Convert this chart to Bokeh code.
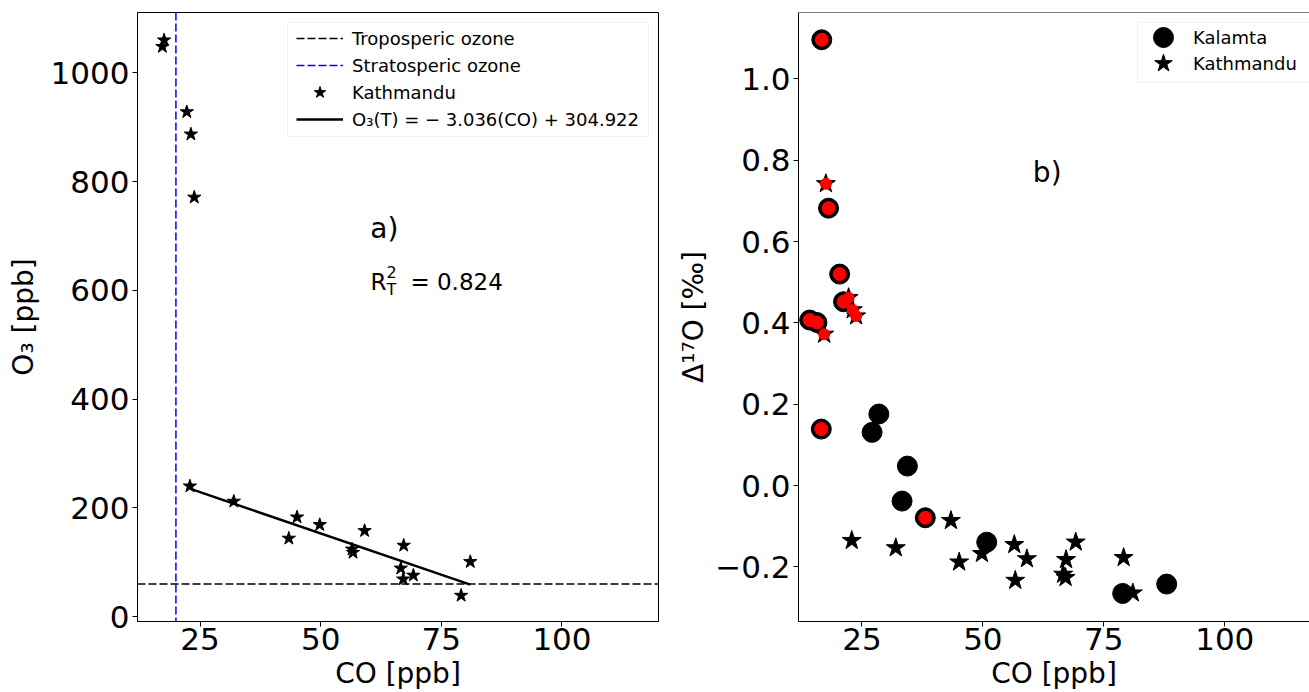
from bokeh.plotting import figure
from bokeh.models import (Range1d, FixedTicker, CustomJSTickFormatter, Span, Legend,
                          LegendItem, BoxAnnotation)
from bokeh.layouts import row
from bokeh.embed import file_html
from bokeh.resources import INLINE
from bokeh.core.properties import value

FONT = "DejaVu Sans"
NAN = float("nan")

# ---------------- data ----------------
# Kathmandu samples: CO [ppb], O3 [ppb], Delta17O [permil]
kat_co = [17.55, 17.2, 22.25, 23.1, 23.8,
          22.9, 32.0, 45.1, 43.4, 49.8, 59.1, 56.5, 56.7, 67.2, 66.6, 67.1, 69.2, 81.0, 79.1]
kat_o3 = [1060, 1048, 928, 887, 771,
          240, 212, 183, 144, 169, 158, 124, 118, 131, 89, 69, 76, 101, 39]
kat_d17o = [0.742, 0.372, 0.462, 0.432, 0.417,
            -0.135, -0.153, -0.188, -0.086, -0.167, -0.180, -0.145, -0.233, -0.182,
            -0.218, -0.226, -0.139, -0.264, -0.177]
kat_strat = [True, True, True, True, True,
             False, False, False, False, False, False, False, False, False,
             False, False, False, False, False]

# Kalamta samples: CO [ppb], Delta17O [permil]
kal_co = [16.7, 18.1, 20.4, 21.2, 14.2, 15.7, 16.6, 28.5, 27.1, 34.4, 33.3, 38.1, 50.8, 78.9, 88.0]
kal_d17o = [1.096, 0.682, 0.520, 0.452, 0.407, 0.401, 0.139, 0.176, 0.131, 0.048,
            -0.038, -0.079, -0.139, -0.265, -0.242]
kal_strat = [True, True, True, True, True, True, True, False, False, False,
             False, True, False, False, False]

trop_ozone = 60      # ppb, horizontal reference
strat_co = 20        # ppb, vertical reference
fit_slope = -3.036
fit_intercept = 304.922
r2_text = "= 0.824"

x_ticks = [25, 50, 75, 100]
o3_ticks = [0, 200, 400, 600, 800, 1000]
d17_ticks = [-0.2, 0.0, 0.2, 0.4, 0.6, 0.8, 1.0]

# ---------------- geometry ----------------
H = 692
TOP, BOTTOM = 12, 71
W1, L1, R1 = 670, 137, 12
W2, L2 = 639, 128
X1 = (12.04, 120.0)
Y1 = (-8.8, 1110.8)
X2 = (11.89, 117.52)
Y2 = (-0.334, 1.163)
DASH = "8 3"


def px2data(px, py, xr, yr, fl, fw):
    """page pixel -> data coordinates for a frame starting at page x fl with width fw"""
    fh = H - TOP - BOTTOM
    x = xr[0] + (px - fl) * (xr[1] - xr[0]) / fw
    y = yr[1] - (py - TOP) * (yr[1] - yr[0]) / fh
    return x, y


def style(p):
    p.grid.visible = False
    p.background_fill_color = "white"
    p.border_fill_color = "white"
    for ax in p.axis:
        ax.axis_line_color = "black"
        ax.axis_line_width = 1
        ax.major_tick_line_color = "black"
        ax.major_tick_out = 5
        ax.major_tick_in = 0
        ax.minor_tick_line_color = None
        ax.major_label_text_font = FONT
        ax.major_label_text_font_size = "31px"
        ax.major_label_text_color = "black"
        ax.axis_label_text_font = FONT
        ax.axis_label_text_font_size = "28px"
        ax.axis_label_text_font_style = "normal"
        ax.axis_label_text_color = "black"
    p.xaxis.major_label_standoff = 1
    p.xaxis.axis_label_standoff = 4


def item_legend(label, renderer, x, y, gw, gh, standoff):
    return Legend(items=[LegendItem(label=label, renderers=[renderer])],
                  location=(x, y), padding=0, margin=0, spacing=0,
                  glyph_width=gw, glyph_height=gh, label_height=gh, label_standoff=standoff,
                  label_text_font=FONT, label_text_font_size="18px", label_text_color="black",
                  border_line_color=None, background_fill_alpha=0)


# ---------------- panel a ----------------
p1 = figure(width=W1, height=H, x_range=Range1d(*X1), y_range=Range1d(*Y1),
            output_backend="svg", toolbar_location=None,
            min_border_left=L1, min_border_right=R1, min_border_top=TOP, min_border_bottom=BOTTOM)
style(p1)
p1.outline_line_color = "black"
p1.outline_line_width = 1
p1.xaxis.ticker = FixedTicker(ticks=x_ticks)
p1.yaxis.ticker = FixedTicker(ticks=o3_ticks)
p1.xaxis.axis_label = "CO [ppb]"
p1.yaxis.axis_label = "O₃ [ppb]"
p1.yaxis.major_label_standoff = 3
p1.yaxis.axis_label_standoff = 8

p1.add_layout(Span(location=trop_ozone, dimension="width", line_color="black",
                   line_dash=DASH, line_width=1.5))
p1.add_layout(Span(location=strat_co, dimension="height", line_color="blue",
                   line_dash=DASH, line_width=1.5))
r_trop = p1.line(x=[NAN, NAN], y=[NAN, NAN], line_color="black", line_dash=DASH, line_width=1.5)
r_strat = p1.line(x=[NAN, NAN], y=[NAN, NAN], line_color="blue", line_dash=DASH, line_width=1.5)

r_kat = p1.scatter(kat_co, kat_o3, marker="star", size=14, color="black")

trop_co = [c for c, s in zip(kat_co, kat_strat) if not s]
fx = [min(trop_co), max(trop_co)]
fy = [fit_slope * v + fit_intercept for v in fx]
r_fit = p1.line(fx, fy, line_color="black", line_width=2.5)

fw1 = W1 - L1 - R1
bx0, by0 = px2data(287, 22, X1, Y1, L1, fw1)
bx1, by1 = px2data(648, 136, X1, Y1, L1, fw1)
p1.add_layout(BoxAnnotation(left=bx0, right=bx1, top=by0, bottom=by1,
                            fill_color="white", fill_alpha=0.8,
                            line_color="#cccccc", line_width=1))
p1.add_layout(item_legend("Troposperic ozone", r_trop, 159, 570, 47, 26, 9))
p1.add_layout(item_legend("Stratosperic ozone", r_strat, 159, 543, 47, 26, 9))
p1.add_layout(item_legend("Kathmandu", r_kat, 159, 514, 47, 30, 9))
p1.add_layout(item_legend("O₃(T) = − 3.036(CO) + 304.922", r_fit, 159, 489, 47, 26, 9))

p1.text(x=[63.2], y=[714], text=["a)"], text_font=value(FONT), text_font_size="28px",
        text_align="center", text_baseline="middle", text_color="black")
p1.text(x=[60.3], y=[615], text=["R"], text_font=value(FONT), text_font_size="23px",
        text_align="left", text_baseline="middle", text_color="black")
p1.text(x=[60.3], y=[615], text=["T"], x_offset=16, y_offset=7, text_font=value(FONT),
        text_font_size="16px", text_align="left", text_baseline="middle", text_color="black")
p1.text(x=[60.3], y=[615], text=["2"], x_offset=16, y_offset=-10, text_font=value(FONT),
        text_font_size="16px", text_align="left", text_baseline="middle", text_color="black")
p1.text(x=[60.3], y=[615], text=[r2_text], x_offset=40, text_font=value(FONT),
        text_font_size="23px", text_align="left", text_baseline="middle", text_color="black")

# ---------------- panel b ----------------
p2 = figure(width=W2, height=H, x_range=Range1d(*X2), y_range=Range1d(*Y2),
            output_backend="svg", toolbar_location=None,
            min_border_left=L2, min_border_right=0, min_border_top=TOP, min_border_bottom=BOTTOM)
style(p2)
p2.outline_line_color = None
p2.add_layout(Span(location=Y2[1], dimension="width", line_color="black", line_width=1))
p2.xaxis.ticker = FixedTicker(ticks=x_ticks)
p2.yaxis.ticker = FixedTicker(ticks=d17_ticks)
p2.yaxis.formatter = CustomJSTickFormatter(code="return tick.toFixed(1).replace('-', '\\u2212');")
p2.xaxis.axis_label = "CO [ppb]"
p2.yaxis.axis_label = "Δ¹⁷O [‰]"
p2.yaxis.major_label_standoff = 3
p2.yaxis.axis_label_standoff = 2

r_kal = p2.scatter(kal_co, kal_d17o, marker="circle", size=20, color="black")
r_kat2 = p2.scatter(kat_co, kat_d17o, marker="star", size=20, color="black")
kal_red_x = [c for c, s in zip(kal_co, kal_strat) if s]
kal_red_y = [d for d, s in zip(kal_d17o, kal_strat) if s]
kat_red_x = [c for c, s in zip(kat_co, kat_strat) if s]
kat_red_y = [d for d, s in zip(kat_d17o, kat_strat) if s]
p2.scatter(kal_red_x, kal_red_y, marker="circle", size=13, color="red")
p2.scatter(kat_red_x, kat_red_y, marker="circle", size=11, color="red")

fw2 = W2 - L2
cx0, cy0 = px2data(1137, 22, X2, Y2, W1 + L2, fw2)
cx1, cy1 = px2data(1330, 82, X2, Y2, W1 + L2, fw2)
p2.add_layout(BoxAnnotation(left=cx0, right=cx1, top=cy0, bottom=cy1,
                            fill_color="white", fill_alpha=0.8,
                            line_color="#cccccc", line_width=1))
p2.add_layout(item_legend("Kalamta", r_kal, 340, 559, 50, 50, 5))
p2.add_layout(item_legend("Kathmandu", r_kat2, 342, 535, 46, 46, 7))

p2.text(x=[63.3], y=[0.77], text=["b)"], text_font=value(FONT), text_font_size="28px",
        text_align="center", text_baseline="middle", text_color="black")

layout = row(p1, p2)
open("out.html", "w").write(file_html(layout, INLINE))
